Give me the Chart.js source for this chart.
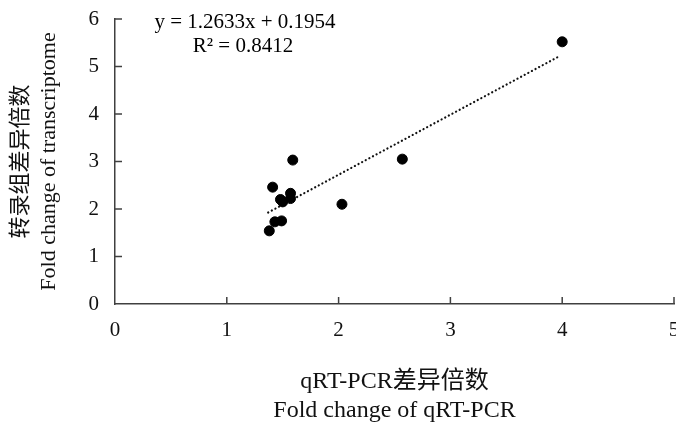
<!DOCTYPE html>
<html>
<head>
<meta charset="utf-8">
<script src="https://cdn.jsdelivr.net/npm/chart.js@4/dist/chart.umd.min.js"></script>
<style>
    html, body { margin: 0; padding: 0; background: #fff; overflow: hidden; }
    #wrap { width: 700px; height: 423px; }
</style>
</head>
<body>
<div id="wrap"><canvas id="fold-chart" width="700" height="423"></canvas></div>
<script>
// qRT-PCR fold change vs. transcriptome fold change, one entry per gene
const qpcrFold = [1.59, 1.41, 1.48, 1.50, 1.57, 1.57, 1.43, 1.49, 1.38, 2.03, 2.57, 4.00];
const rnaSeqFold = [3.03, 2.46, 2.20, 2.15, 2.33, 2.22, 1.73, 1.75, 1.54, 2.10, 3.05, 5.52];

// linear fit as reported on the chart
const slope = 1.2633;
const intercept = 0.1954;
const rSquared = 0.8412;
const fitRange = [1.37, 3.98];

const xTicks = [0, 1, 2, 3, 4, 5];
const yTicks = [0, 1, 2, 3, 4, 5, 6];

const serif = "'Liberation Serif', 'Times New Roman', 'Noto Sans CJK SC', serif";
const axisColor = "#404040";

let scatterPoints = qpcrFold.map((x, i) => ({ x: x, y: rnaSeqFold[i] }));
let fitPoints = fitRange.map(x => ({ x: x, y: slope * x + intercept }));

// short tick marks pointing into the plot area
const innerTicks = {
    id: "innerTicks",
    afterDraw(chart) {
        const { ctx, chartArea, scales } = chart;
        ctx.save();
        ctx.strokeStyle = axisColor;
        ctx.lineWidth = 1.5;
        ctx.beginPath();
        xTicks.slice(1).forEach(v => {
            let px = scales.x.getPixelForValue(v);
            ctx.moveTo(px, chartArea.bottom);
            ctx.lineTo(px, chartArea.bottom - 7);
        });
        yTicks.slice(1).forEach(v => {
            let py = scales.y.getPixelForValue(v);
            ctx.moveTo(chartArea.left, py);
            ctx.lineTo(chartArea.left + 7, py);
        });
        ctx.stroke();
        ctx.restore();
    }
};

// regression equation text
const fitLabel = {
    id: "fitLabel",
    afterDraw(chart) {
        const ctx = chart.ctx;
        ctx.save();
        ctx.fillStyle = "#000";
        ctx.font = "21px " + serif;
        ctx.textAlign = "center";
        ctx.textBaseline = "middle";
        ctx.fillText("y = " + slope.toFixed(4) + "x + " + intercept.toFixed(4), 245, 22);
        ctx.fillText("R\u00b2 = " + rSquared.toFixed(4), 243, 46);
        ctx.restore();
    }
};

const chartData = {
    datasets: [
        {
            type: "scatter",
            data: scatterPoints,
            backgroundColor: "#000",
            borderColor: "#000",
            pointRadius: 5,
            pointHoverRadius: 5
        },
        {
            type: "line",
            data: fitPoints,
            borderColor: "#111",
            borderWidth: 2.2,
            borderDash: [0.1, 4],
            borderCapStyle: "round",
            pointRadius: 0,
            fill: false
        }
    ]
};

const chartOptions = {
    responsive: false,
    animation: false,
    layout: {
        padding: { left: 0, top: 19, right: 26, bottom: 0 }
    },
    plugins: {
        legend: { display: false },
        tooltip: { enabled: false }
    },
    scales: {
        x: {
            type: "linear",
            min: 0,
            max: 5,
            afterBuildTicks: scale => {
                scale.ticks = xTicks.map(v => ({ value: v }));
            },
            afterFit: scale => {
                scale.height = 119;
                scale.paddingLeft = 0;
                scale.paddingRight = 0;
            },
            grid: { display: false, drawTicks: false },
            border: { display: true, color: axisColor, width: 1.5 },
            ticks: {
                padding: 14,
                color: "#111",
                maxRotation: 0,
                font: { family: serif, size: 21 }
            },
            title: {
                display: true,
                text: ["qRT-PCR差异倍数", "Fold change of qRT-PCR"],
                color: "#111",
                padding: { top: 0, bottom: -2 },
                font: { family: serif, size: 24, lineHeight: 1.2 }
            }
        },
        y: {
            type: "linear",
            min: 0,
            max: 6,
            afterBuildTicks: scale => {
                scale.ticks = yTicks.map(v => ({ value: v }));
            },
            afterFit: scale => {
                scale.width = 115;
                scale.paddingTop = 0;
                scale.paddingBottom = 0;
            },
            grid: { display: false, drawTicks: false },
            border: { display: true, color: axisColor, width: 1.5 },
            ticks: {
                padding: 16,
                color: "#111",
                font: { family: serif, size: 21 }
            },
            title: {
                display: true,
                text: ["转录组差异倍数", "Fold change of transcriptome"],
                color: "#111",
                padding: { top: 7, bottom: 0 },
                font: { family: serif, size: 22, lineHeight: 1.27 }
            }
        }
    }
};

new Chart(document.getElementById("fold-chart"), {
    data: chartData,
    options: chartOptions,
    plugins: [innerTicks, fitLabel]
});
</script>
</body>
</html>
